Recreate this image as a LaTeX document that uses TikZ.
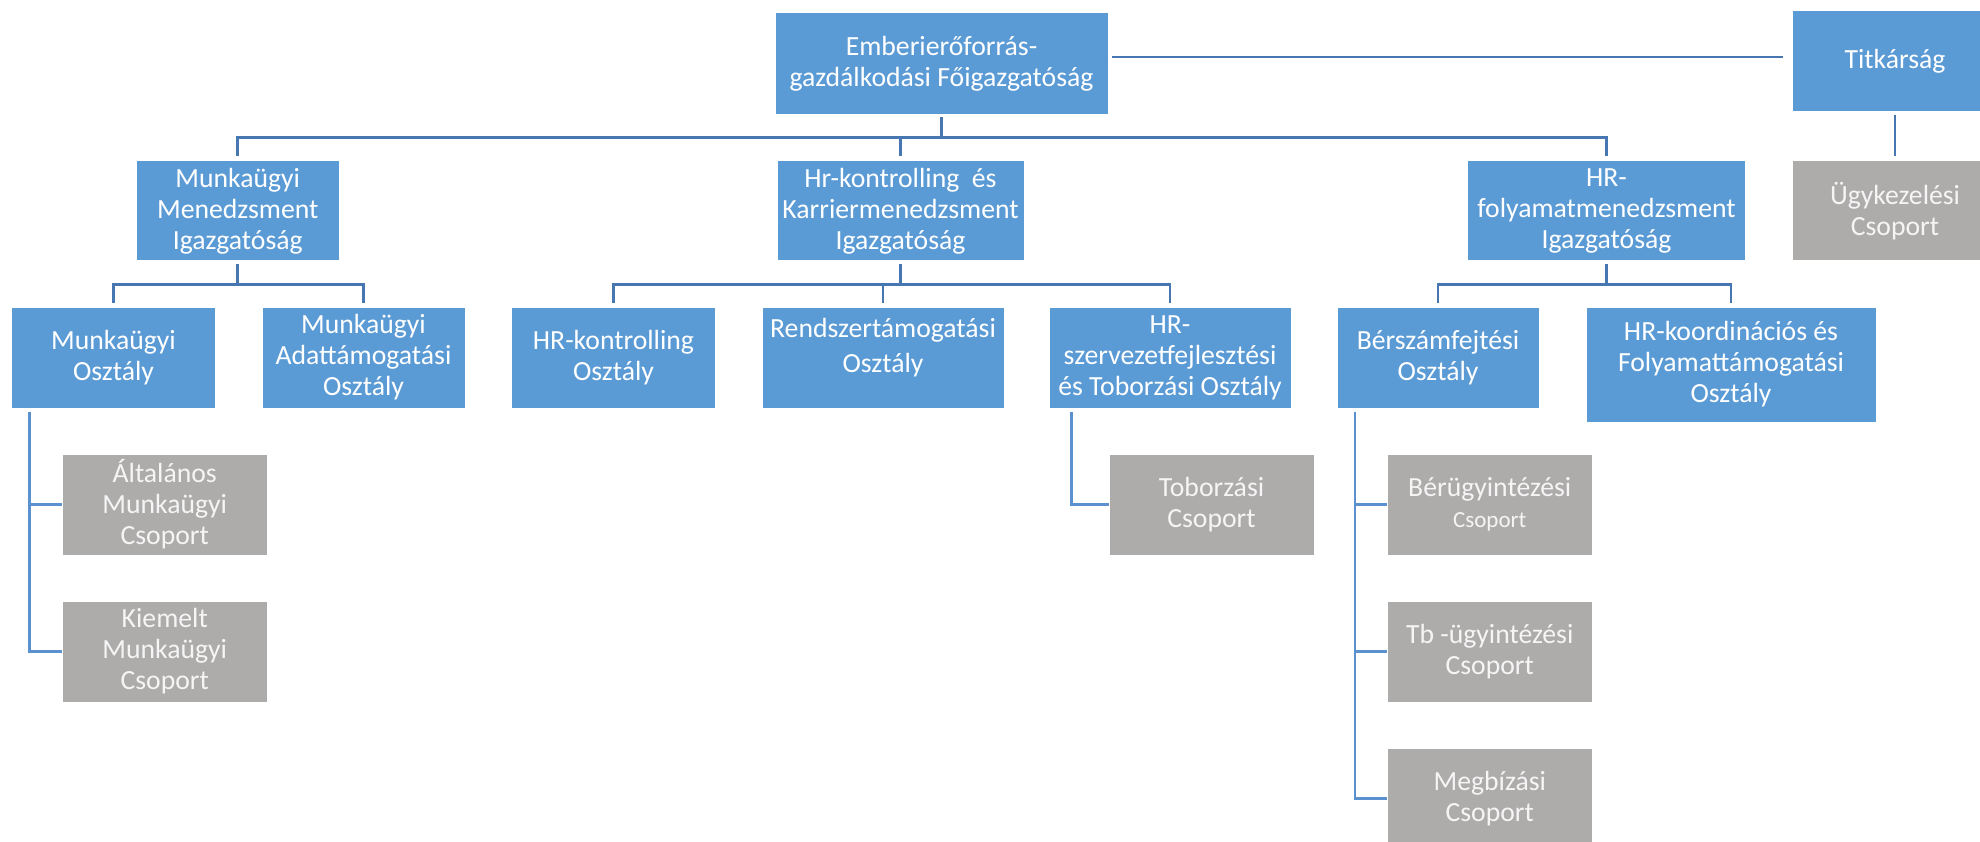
\documentclass[tikz,border=0pt]{standalone}
\usepackage{fontspec}
\setmainfont{Carlito}
\definecolor{boxblue}{HTML}{5B9BD5}
\definecolor{boxgray}{HTML}{AEABAB}
\definecolor{conn}{HTML}{4677B0}
\definecolor{connlight}{HTML}{5B91CF}
\tikzset{
  unit/.style={draw=white, line width=1pt, fill=boxblue, text=white, align=center,
    inner sep=0pt, font=\fontsize{27.7}{31}\selectfont},
  grp/.style={unit, fill=boxgray, text=white!96!black},
  link/.style={draw=conn, line width=2.6pt},
  sublink/.style={draw=connlight, line width=2.4pt},
}
\begin{document}
\begin{tikzpicture}[x=1pt,y=-1pt]
\useasboundingbox (0,0) rectangle (1980,842);
% top level
\node[unit, minimum width=333, minimum height=102] (top) at (941.5,64) {Emberierőforrás-\\gazdálkodási Főigazgatóság};
\node[unit, minimum width=206, minimum height=101] (tit) at (1895,61.5) {Titkárság};
\node[grp, minimum width=206, minimum height=100] (ugy) at (1895,211) {Ügykezelési\\Csoport};
% level 1
\node[unit, minimum width=202.5, minimum height=100] (mm) at (237.75,211) {Munkaügyi\\Menedzsment\\Igazgatóság};
\node[unit, minimum width=247, minimum height=100] (hk) at (900.5,211) {Hr-kontrolling~ és\\Karriermenedzsment\\Igazgatóság};
\node[unit, minimum width=278, minimum height=100] (hf) at (1606.5,211) {HR-\\folyamatmenedzsment\\Igazgatóság};
% level 2
\node[unit, minimum width=204, minimum height=101] (mo) at (113.5,357.5) {Munkaügyi\\Osztály};
\node[unit, minimum width=203, minimum height=101] (ma) at (363.5,357.5) {Munkaügyi\\Adattámogatási\\Osztály};
\node[unit, minimum width=204, minimum height=101] (hko) at (613.5,357.5) {HR-kontrolling\\Osztály};
\node[unit, minimum width=242, minimum height=101, font=\fontsize{27.7}{35}\selectfont] (rt) at (883,357.5) {Rendszertámogatási\\Osztály\\[-11pt]\mbox{}};
\node[unit, minimum width=242, minimum height=101] (hsz) at (1170,357.5) {HR-\\szervezetfejlesztési\\és Toborzási Osztály};
\node[unit, minimum width=202, minimum height=101] (bsz) at (1438,357.5) {Bérszámfejtési\\Osztály};
\node[unit, minimum width=290, minimum height=115] (hko2) at (1731,364.5) {HR-koordinációs és\\Folyamattámogatási\\Osztály};
% level 3
\node[grp, minimum width=204.5, minimum height=101] (alt) at (164.75,504.5) {Általános\\Munkaügyi\\Csoport};
\node[grp, minimum width=204.5, minimum height=101] (kie) at (164.75,651.5) {Kiemelt\\Munkaügyi\\Csoport};
\node[grp, minimum width=205, minimum height=101] (tob) at (1211.5,504.5) {Toborzási\\Csoport};
\node[grp, minimum width=204.5, minimum height=101] (ber) at (1489.75,504.5) {Bérügyintézési\\{\fontsize{23}{26}\selectfont Csoport}};
\node[grp, minimum width=204.5, minimum height=101] (tb) at (1489.75,651.5) {Tb -ügyintézési\\Csoport};
\node[grp, minimum width=204.5, minimum height=101] (meg) at (1489.75,798.5) {Megbízási\\Csoport};
% connectors
\draw[link] ([yshift=7pt, xshift=3pt]top.east) -- ([yshift=4.5pt, xshift=-9pt]tit.west);
\draw[link, shorten <=3pt, shorten >=4pt] (tit.south) -- (ugy.north);
\draw[link, shorten <=2pt] (top.south) -- ++(0,22) coordinate (b1);
\draw[link, shorten >=4pt] (b1) -| (mm.north);
\draw[link, shorten >=4pt] (b1) -| (hk.north);
\draw[link, shorten >=4pt] (b1) -| (hf.north);
\draw[link, shorten <=3pt] (mm.south) -- ++(0,23) coordinate (b2);
\draw[link, shorten >=4pt] (b2) -| (mo.north);
\draw[link, shorten >=4pt] (b2) -| (ma.north);
\draw[link, shorten <=3pt] (hk.south) -- ++(0,23) coordinate (b3);
\draw[link, shorten >=4pt] (b3) -| (hko.north);
\draw[link, shorten >=4pt] (b3) -| (rt.north);
\draw[link, shorten >=4pt] (b3) -| (hsz.north);
\draw[link, shorten <=3pt] (hf.south) -- ++(0,23) coordinate (b4);
\draw[link, shorten >=4pt] (b4) -| (bsz.north);
\draw[link, shorten >=4pt] (b4) -| (hko2.north);
% group connectors
\coordinate (mos) at ([xshift=18.5pt, yshift=-3pt]mo.south west);
\draw[sublink] (mos) |- (alt.west);
\draw[sublink] (mos) |- (kie.west);
\coordinate (hszs) at ([xshift=23pt, yshift=-3pt]hsz.south west);
\draw[sublink] (hszs) |- (tob.west);
\coordinate (bszs) at ([xshift=18.6pt, yshift=-3pt]bsz.south west);
\draw[sublink] (bszs) |- (ber.west);
\draw[sublink] (bszs) |- (tb.west);
\draw[sublink] (bszs) |- (meg.west);
\end{tikzpicture}
\end{document}
